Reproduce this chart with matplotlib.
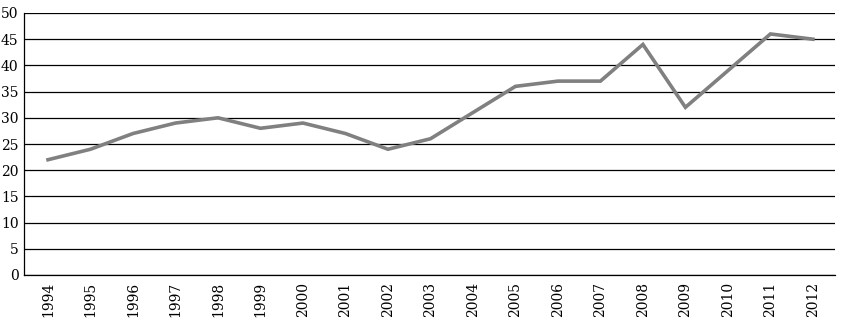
import matplotlib

matplotlib.use("Agg")
import matplotlib.pyplot as plt

years = [str(y) for y in range(1994, 2013)]
values = [22, 24, 27, 29, 30, 28, 29, 27, 24, 26, 31, 36, 37, 37, 44, 32, 39, 46, 45]
y_ticks = list(range(0, 51, 5))

plt.rcParams["font.family"] = ["DejaVu Serif"]

fig = plt.figure(figsize=(8.42, 3.27), dpi=100)
ax = fig.add_axes([24 / 842, 1 - 275 / 327, (835 - 24) / 842, (275 - 13) / 327])

x = list(range(len(years)))
ax.plot(x, values, color="#808080", linewidth=2.6, solid_joinstyle="miter", zorder=3)

ax.set_xlim(-0.565, 18.52)
ax.set_ylim(0, 50)
ax.set_yticks(y_ticks)
ax.set_xticks(x)
ax.set_xticklabels(years, rotation=90)
ax.tick_params(length=0, labelsize=10, pad=5)
ax.tick_params(axis="y", pad=4)
ax.yaxis.grid(True, color="black", linewidth=0.9)
ax.set_axisbelow(True)
for side in ("top", "right"):
    ax.spines[side].set_visible(False)
ax.spines["left"].set_linewidth(0.9)
ax.spines["bottom"].set_linewidth(0.9)

fig.savefig("out.png", dpi=100)
